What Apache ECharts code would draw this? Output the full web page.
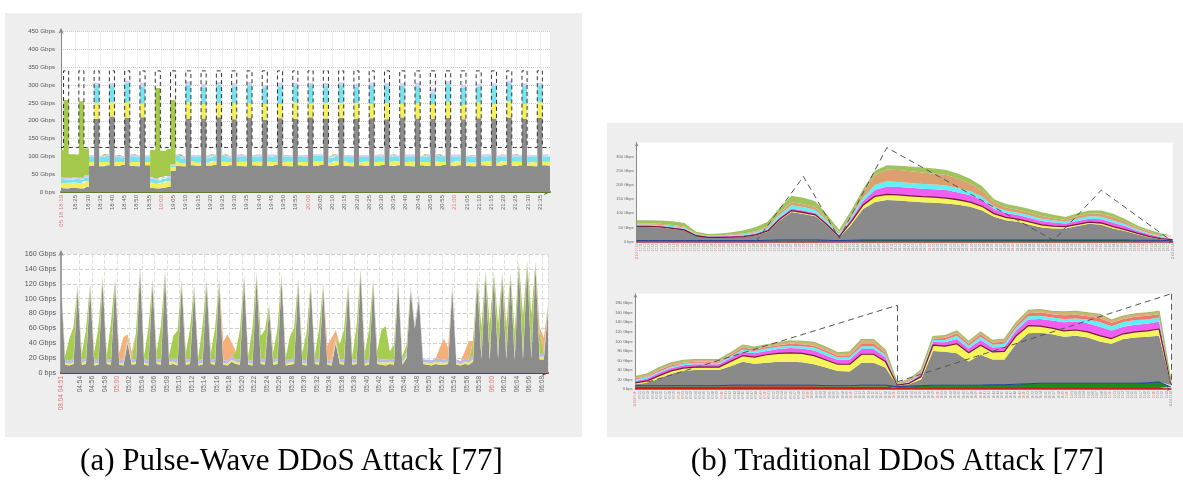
<!DOCTYPE html>
<html><head><meta charset="utf-8">
<script src="https://cdn.jsdelivr.net/npm/echarts@6/dist/echarts.min.js"></script>
<style>
html,body{margin:0;padding:0;background:#fff;}
#wrap{position:relative;width:1183px;height:483px;overflow:hidden;}
.panel{position:absolute;background:#eeeeee;}
#chart{position:absolute;left:0;top:0;width:1183px;height:483px;}
.cap{position:absolute;top:444px;font-family:'Liberation Serif',serif;font-size:31px;line-height:31px;text-align:center;color:#000;white-space:nowrap;}
</style>
</head><body>
<div id="wrap">
  <div class="panel" style="left:5px;top:13px;width:577px;height:424px;"></div>
  <div class="panel" style="left:607px;top:123px;width:576px;height:314px;"></div>
  <div id="chart"></div>
  <div class="cap" style="left:0;width:583px;">(a) Pulse-Wave DDoS Attack [77]</div>
  <div class="cap" style="left:607px;width:581px;">(b) Traditional DDoS Attack [77]</div>
</div>
<script>
// ---------------- (a) top: pulse wave, 18:19 - 21:39 ----------------
const a1TickLabels = ['18:19','18:25','18:30','18:35','18:40','18:45','18:50','18:55',
 '19:00','19:05','19:10','19:15','19:20','19:25','19:30','19:35','19:40','19:45','19:50','19:55',
 '20:00','20:05','20:10','20:15','20:20','20:25','20:30','20:35','20:40','20:45','20:50','20:55',
 '21:00','21:05','21:10','21:15','21:20','21:25','21:30','21:35'];
const a1Date = '05.18';
const a1Gray = [12,10,12,12,10,14,74,205,72,75,
 212,73,76,208,74,72,210,75,12,10,
 12,14,60,74,72,206,75,73,205,74,
 76,210,73,75,204,74,72,208,75,74,
 203,73,76,207,74,72,205,75,73,210,
 74,76,206,73,75,208,74,72,205,75,
 73,207,74,76,204,73,75,209,74,72,
 206,75,73,205,74,76,208,73,75,204,
 74,72,207,75,73,206,74,76,209,73,
 75,205,74,72,208,75,74];
const a1Yellow = [15,15,14,15,15,16,10,44,12,9,
 40,11,8,45,10,12,38,9,15,14,
 15,16,10,11,9,46,12,10,42,8,
 11,40,12,9,45,10,13,41,9,11,
 44,12,8,40,10,13,46,9,11,38,
 12,10,44,9,11,42,13,10,45,8,
 12,40,10,9,46,12,11,39,10,13,
 44,9,11,42,12,8,45,10,12,41,
 9,11,44,10,13,40,9,11,45,12,
 10,42,9,12,44,10,11];
const a1Cyan = [10,10,9,10,10,11,15,50,14,17,
 46,15,13,52,16,14,48,15,10,9,
 10,11,5,16,14,50,13,16,47,15,
 14,52,16,13,48,15,14,51,16,15,
 45,14,17,50,15,13,48,16,14,52,
 15,16,47,14,15,50,13,16,46,15,
 14,51,16,15,48,14,13,50,16,15,
 47,14,16,30,15,14,50,16,13,48,
 15,16,45,14,15,52,16,13,49,15,
 14,50,16,15,47,14,16];
const a1Lav = [5,5,5,4,5,5,5,8,4,6,
 9,5,4,8,6,5,10,4,5,5,
 5,4,3,5,6,8,4,5,9,6,
 5,7,4,5,8,6,5,9,4,5,
 8,6,4,10,5,5,8,4,6,7,
 5,4,9,6,5,8,4,5,8,6,
 5,9,4,5,8,6,4,7,5,5,
 10,4,6,12,5,4,8,6,5,9,
 4,5,8,6,5,7,4,5,9,6,
 5,8,4,5,8,6,5];
const a1Green = [76,218,66,64,215,76,0,0,0,0,
 0,0,0,0,0,0,0,0,76,254,
 74,76,180,0,0,0,0,0,0,0,
 0,0,0,0,0,0,0,0,0,0,
 0,0,0,0,0,0,0,0,0,0,
 0,0,0,0,0,0,0,0,0,0,
 0,0,0,0,0,0,0,0,0,0,
 0,0,0,0,0,0,0,0,0,0,
 0,0,0,0,0,0,0,0,0,0,
 0,0,0,0,0,0,0];
const a1Dash = [125,340,125,125,340,125,125,340,125,125,
 340,125,125,340,125,125,340,125,125,340,
 125,125,340,125,125,340,125,125,340,125,
 125,340,125,125,340,125,125,340,125,125,
 340,125,125,340,125,125,340,125,125,340,
 125,125,340,125,125,340,125,125,340,125,
 125,340,125,125,340,125,125,340,125,125,
 340,125,125,340,125,125,340,125,125,340,
 125,125,340,125,125,340,125,125,340,125,
 125,340,125,125,340,125,125];

// ---------------- (a) bottom: pulse wave, 04:51 - 06:09 ----------------
const a2TickLabels = ['04:51','04:54','04:56','04:58','05:00','05:02','05:04','05:06','05:08','05:10',
 '05:12','05:14','05:16','05:18','05:20','05:22','05:24','05:26','05:28','05:30',
 '05:32','05:34','05:36','05:38','05:40','05:42','05:44','05:46','05:48','05:50',
 '05:52','05:54','05:56','05:58','06:00','06:02','06:04','06:06','06:08','06:09'];
const a2Date = '08.04';
const a2Gray = [119,11,10,12,112,11,12,114,10,11,
 123,12,11,121,11,10,40,11,12,137,
 11,10,119,12,11,132,11,12,10,119,
 11,12,112,10,11,119,12,11,119,11,
 10,15,12,11,126,11,10,128,12,11,
 85,11,12,126,10,11,12,120,11,10,
 117,12,11,114,11,10,40,12,11,114,
 11,12,134,10,11,120,12,11,10,12,
 11,120,11,20,110,60,99,12,11,10,
 12,11,11,12,112,11,10,12,11,15,
 123,18,130,17,130,19,128,18,128,17,
 143,18,143,19,143,18,18,85];
const a2Yellow = [3,3,2,3,3,3,4,3,3,2,
 3,3,3,3,2,3,3,3,3,3,
 3,2,3,3,3,3,4,3,3,3,
 3,3,3,2,3,3,3,3,3,2,
 3,3,3,3,3,3,2,3,3,3,
 3,3,4,3,3,3,3,3,2,3,
 3,3,3,3,2,3,3,3,3,3,
 3,2,3,3,3,3,3,3,4,3,
 3,3,3,3,3,3,3,2,3,3,
 3,3,3,3,3,3,2,3,3,3,
 3,4,3,4,3,4,3,4,3,4,
 3,4,3,4,3,4,4,3];
const a2Lav = [4,4,4,5,4,4,4,4,5,4,
 4,4,4,4,4,5,4,4,4,4,
 5,4,4,4,4,4,4,5,4,4,
 4,4,4,4,5,4,4,4,4,4,
 4,5,4,4,4,4,4,4,5,4,
 4,4,4,4,4,5,4,4,4,4,
 4,4,5,4,4,4,4,4,4,5,
 4,4,4,4,4,4,5,4,4,4,
 4,4,4,5,4,4,4,4,4,4,
 4,5,4,4,4,4,4,4,4,5,
 4,5,4,5,4,5,4,5,4,5,
 4,5,4,5,4,5,5,4];
const a2Green = [0,5,30,42,0,8,38,0,10,45,
 0,5,50,0,0,0,0,0,35,0,
 5,45,0,10,45,0,5,30,40,0,
 10,40,0,5,45,0,8,42,0,0,
 0,0,10,40,0,5,45,0,30,40,
 0,10,40,0,5,30,42,0,10,38,
 0,5,40,0,0,0,0,20,40,0,
 5,45,0,10,40,0,10,40,45,10,
 20,0,5,10,0,0,0,0,0,0,
 0,0,0,0,0,0,0,0,0,20,
 0,35,0,40,0,38,0,35,0,30,
 0,50,0,50,0,25,0,0];
const a2Orange = [0,0,0,0,0,0,0,0,0,0,
 0,0,0,0,10,30,5,10,0,0,
 0,0,0,0,0,0,0,0,0,0,
 0,0,0,0,0,0,0,0,0,25,
 35,18,0,0,0,0,0,0,0,0,
 0,0,0,0,0,0,0,0,0,0,
 0,0,0,0,20,30,10,0,0,0,
 0,0,0,0,0,0,0,0,0,0,
 0,0,0,0,0,0,0,0,0,0,
 0,15,28,15,0,0,0,10,25,0,
 0,0,0,0,0,0,0,5,0,0,
 0,0,0,0,0,10,20,0];

// ---------------- (b) top: traditional attack ----------------
const b1Red    = [2,2,2,2,2,2,2,2,2,2, 2,3,4,4,4,4,3,2,2,2, 2,2,2,2,2,2,2,2,2,2, 2,2,2,2,2,2,2,2,2,2, 2,2,2,2,2,1];
const b1DGreen = [2,2,2,2,2,2,2,2,2,2, 2,2,2,2,2,2,2,2,3,4, 4,4,4,4,4,4,4,4,4,4, 4,4,4,4,4,4,4,4,4,4, 4,4,3,3,3,2];
const b1Gray   = [48,48,46,41,36,16,10,10,11,13, 18,30,69,99,92,84,50,11,55,109, 134,141,139,136,133,131,129,124,117,104, 82,70,64,54,44,41,41,49,57,54, 41,32,21,11,4,2];
const b1Yellow = [2,2,2,2,2,1,1,1,1,1, 2,3,4,5,5,5,4,3,10,14, 20,20,20,20,20,20,19,18,17,15, 11,10,10,10,9,8,6,6,6,6, 6,5,4,3,2,2];
const b1Magenta= [3,3,3,4,4,3,3,4,5,5, 5,5,6,7,7,6,5,5,9,14, 22,28,28,28,28,28,28,26,24,22, 16,15,14,14,14,13,11,12,12,13, 14,12,9,7,5,4];
const b1Cyan   = [4,4,4,4,4,3,2,2,2,3, 4,6,10,12,12,11,8,5,8,12, 18,18,18,17,17,17,16,15,14,12, 9,8,8,8,8,7,6,8,9,9, 8,7,5,4,3,3];
const b1Peach  = [3,3,4,4,4,2,2,2,2,3, 4,6,8,10,10,10,8,5,10,18, 35,42,42,42,40,38,37,33,27,22, 14,12,11,10,10,8,7,9,10,11, 12,9,7,6,5,4];
const b1Green  = [12,12,12,13,12,6,5,6,8,11, 15,15,17,23,23,21,15,9,13,12, 15,15,15,16,18,18,18,18,17,15, 12,12,12,13,13,12,10,10,10,11, 12,9,7,6,6,4];
const b1DashIdx = [10,14,17,21,35,39,45];
const b1DashVal = [0,230,12,332,5,182,0];

// ---------------- (b) bottom: traditional attack ----------------
const b2Red    = [5,5,5,5,5,5,5,5,6,6, 6,6,6,6,6,6,5,5,5,5, 5,5,2,2,2,2,2,2,2,2, 2,2,2,2,2,2,2,2,2,2, 2,2,2,2,2,1];
const b2DGreen = [2,2,2,2,2,2,2,2,2,2, 2,2,2,2,2,2,2,2,2,3, 3,3,3,4,5,6,6,6,6,6, 7,7,8,9,10,10,10,10,10,10, 10,10,10,11,13,3];
const b2Gray   = [3,6,15,25,31,33,33,33,40,49, 45,47,49,49,48,44,38,31,30,47, 47,37,2,4,13,72,70,67,50,64, 53,53,85,106,106,103,98,100,96,88, 83,93,96,97,97,4];
const b2Yellow = [3,4,6,6,6,6,6,6,10,13, 14,17,18,19,19,18,16,14,15,18, 18,13,1,2,6,12,12,20,18,20, 16,17,17,16,14,13,12,12,12,12, 11,11,12,12,14,2];
const b2Magenta= [4,5,6,6,6,6,6,6,7,8, 8,8,9,10,10,11,10,9,10,11, 11,9,1,2,5,7,8,10,9,11, 9,10,11,13,15,16,18,18,18,19, 17,15,15,15,16,2];
const b2Cyan   = [3,3,3,3,3,3,3,3,4,5, 5,5,5,5,5,6,6,5,5,6, 6,5,1,2,3,4,5,7,6,7, 6,6,6,7,7,6,7,6,8,10, 9,10,10,9,8,1];
const b2Salmon = [2,2,3,3,2,2,2,2,3,4, 3,3,3,4,4,4,4,4,4,6, 6,4,1,2,3,3,4,5,4,5, 4,5,5,6,7,7,8,8,7,8, 7,6,7,8,7,1];
const b2Peach  = [4,5,5,5,5,5,5,5,4,5, 5,5,5,6,6,7,7,6,7,8, 8,6,1,2,3,4,5,5,5,5, 5,5,6,6,6,6,7,7,7,8, 6,6,6,6,6,1];
const b2DashA = {idx:[1,22], val:[14,176]};
const b2DashB = {idx:[22,45], val:[15,200]};
const b2DashDrops = [{idx:22, from:176, to:15}, {idx:45, from:200, to:8}];

// ---------------- helpers ----------------
function hm(m){const h=Math.floor(m/60)%24, mm=m%60;return (h<10?'0':'')+h+':'+(mm<10?'0':'')+mm;}
function toMin(s){const p=s.split(':');return (+p[0])*60+(+p[1]);}
function minuteRange(a,b){const r=[];for(let m=toMin(a);m<=toMin(b);m++)r.push(hm(m));return r;}
function indexCats(n){const r=[];for(let i=0;i<n;i++)r.push(String(i));return r;}
function sparse(n,idx,val){const r=[];for(let i=0;i<n;i++)r.push(null);idx.forEach((k,j)=>{r[k]=val[j];});return r;}

const FONT='Liberation Sans';
const a1Cats = minuteRange('18:19','21:39');
const a1Set = new Set(a1TickLabels);
const a1Red = new Set(['18:19','19:00','20:00','21:00']);
const a2Cats = minuteRange('04:51','06:09');
const a2Set = new Set(a2TickLabels);
const a2Red = new Set(['04:51','05:00','06:00','06:09']);
const b1Cats = minuteRange('17:10','19:18');
const b2Cats = minuteRange('09:20','11:24');

function area(name,data,color,stack,xi,yi,extra){
  return Object.assign({name:name,type:'line',data:data,stack:stack,xAxisIndex:xi,yAxisIndex:yi,
    symbol:'none',silent:true,lineStyle:{width:0,color:color},areaStyle:{color:color,opacity:1},
    itemStyle:{color:color}},extra||{});
}
function gbps(v){return v===0?'0 bps':v+' Gbps';}

const chart = echarts.init(document.getElementById('chart'),null,{renderer:'canvas'});
const option = {
  animation:false,
  backgroundColor:'transparent',
  grid:[
    {left:61,top:31.7,width:489,height:160.3,show:true,backgroundColor:'#ffffff',borderWidth:0},
    {left:61,top:254,width:487,height:119,show:true,backgroundColor:'#ffffff',borderWidth:0},
    {left:636.7,top:142.5,width:536,height:99.2,show:true,backgroundColor:'#ffffff',borderWidth:0},
    {left:635.5,top:293.8,width:535.5,height:95.2,show:true,backgroundColor:'#ffffff',borderWidth:0}
  ],
  xAxis:[
    // 0: a1 data
    {type:'category',gridIndex:0,position:'top',show:false,boundaryGap:false,data:indexCats(a1Gray.length)},
    // 1: a1 labels
    {type:'category',gridIndex:0,position:'bottom',boundaryGap:false,data:a1Cats,
      axisLine:{lineStyle:{color:'#5f7d2c',width:2},symbol:['none','arrow'],symbolSize:[5,6]},
      axisTick:{show:false},
      axisLabel:{interval:(i,v)=>a1Set.has(v),rotate:90,fontSize:6,fontFamily:FONT,margin:3,
        color:(v)=>a1Red.has(v)?'#d98080':'#666',
        formatter:(v,i)=>i===0?a1Date+' '+v:v},
      splitLine:{show:true,interval:(i,v)=>a1Set.has(v),lineStyle:{color:'#e4e4e4',type:'dotted',width:1}}},
    // 2: a2 data
    {type:'category',gridIndex:1,position:'top',show:false,boundaryGap:false,data:indexCats(a2Gray.length)},
    // 3: a2 labels
    {type:'category',gridIndex:1,position:'bottom',boundaryGap:false,data:a2Cats,
      axisLine:{lineStyle:{color:'#7a3b1e',width:2},symbol:['none','arrow'],symbolSize:[5,6]},
      axisTick:{show:false},
      axisLabel:{interval:(i,v)=>a2Set.has(v),rotate:90,fontSize:6.5,fontFamily:FONT,margin:3,
        color:(v)=>a2Red.has(v)?'#d97070':'#666',
        formatter:(v,i)=>(i===0||i===a2Cats.length-1)?a2Date+' '+v:v},
      splitLine:{show:true,interval:(i,v)=>a2Set.has(v),lineStyle:{color:'#e0e0e0',type:'dashed',width:1}}},
    // 4: b1 data
    {type:'category',gridIndex:2,position:'top',show:false,boundaryGap:false,data:indexCats(b1Gray.length)},
    // 5: b1 labels
    {type:'category',gridIndex:2,position:'bottom',boundaryGap:false,data:b1Cats,
      axisLine:{lineStyle:{color:'#b03030',width:1.5},symbol:['none','arrow'],symbolSize:[3,4]},
      axisTick:{show:false},
      axisLabel:{interval:0,rotate:90,fontSize:3,fontFamily:FONT,margin:2,
        color:(v)=>(toMin(v)%10===0)?'#e07070':'#888',
        formatter:(v,i)=>(i===0||i===b1Cats.length-1)?'11.03 '+v:v},
      splitLine:{show:false}},
    // 6: b2 data
    {type:'category',gridIndex:3,position:'top',show:false,boundaryGap:false,data:indexCats(b2Gray.length)},
    // 7: b2 labels
    {type:'category',gridIndex:3,position:'bottom',boundaryGap:false,data:b2Cats,
      axisLine:{lineStyle:{color:'#b03030',width:1.5},symbol:['none','arrow'],symbolSize:[3,4]},
      axisTick:{show:false},
      axisLabel:{interval:0,rotate:90,fontSize:3,fontFamily:FONT,margin:2,
        color:(v)=>(toMin(v)%10===0)?'#e07070':'#888',
        formatter:(v,i)=>(i===0||i===b2Cats.length-1)?'11.04 '+v:v},
      splitLine:{show:false}}
  ],
  yAxis:[
    {type:'value',gridIndex:0,min:0,max:450,interval:50,
      axisLine:{show:true,lineStyle:{color:'#888',width:1},symbol:['none','arrow'],symbolSize:[4,6],symbolOffset:[0,4]},
      axisTick:{show:false},
      axisLabel:{fontSize:6.2,fontFamily:FONT,color:'#555',margin:6,formatter:gbps},
      splitLine:{lineStyle:{color:'#cfcfcf',type:'dotted'}}},
    {type:'value',gridIndex:1,min:0,max:160,interval:20,
      axisLine:{show:true,lineStyle:{color:'#888',width:1.5},symbol:['none','arrow'],symbolSize:[4,6],symbolOffset:[0,4]},
      axisTick:{show:false},
      axisLabel:{fontSize:7.2,fontFamily:FONT,color:'#555',margin:5,formatter:gbps},
      splitLine:{lineStyle:{color:'#d0d0d0',type:'dashed'}}},
    {type:'value',gridIndex:2,min:0,max:350,interval:50,
      axisLine:{show:true,lineStyle:{color:'#888',width:1},symbol:['none','arrow'],symbolSize:[3,4]},
      axisTick:{show:false},
      axisLabel:{fontSize:4,fontFamily:FONT,color:'#666',margin:3,formatter:(v)=>v>=350?'':gbps(v)},
      splitLine:{show:false}},
    {type:'value',gridIndex:3,min:0,max:200,interval:20,
      axisLine:{show:true,lineStyle:{color:'#888',width:1},symbol:['none','arrow'],symbolSize:[3,4]},
      axisTick:{show:false},
      axisLabel:{fontSize:4,fontFamily:FONT,color:'#666',margin:3,formatter:(v)=>v>=200?'':gbps(v)},
      splitLine:{show:false}}
  ],
  series:[
    // (a) top
    area('a1 gray',a1Gray,'#8c8c8c','a1',0,0,{step:'middle'}),
    area('a1 yellow',a1Yellow,'#f2ee5c','a1',0,0,{step:'middle'}),
    area('a1 cyan',a1Cyan,'#78e3ee','a1',0,0,{step:'middle'}),
    area('a1 lavender',a1Lav,'#d0d0f4','a1',0,0,{step:'middle'}),
    area('a1 green',a1Green,'#a3c84a','a1',0,0,{step:'middle'}),
    {name:'a1 threshold',type:'line',data:a1Dash,xAxisIndex:0,yAxisIndex:0,step:'middle',symbol:'none',silent:true,
      lineStyle:{color:'#333',width:1,type:[4,3]}},
    // (a) bottom
    area('a2 gray',a2Gray,'#8c8c8c','a2',2,1),
    area('a2 yellow',a2Yellow,'#eeea60','a2',2,1),
    area('a2 lavender',a2Lav,'#b8b8f0','a2',2,1),
    area('a2 green',a2Green,'#a6cc50','a2',2,1),
    area('a2 orange',a2Orange,'#f4b078','a2',2,1),
    // (b) top
    area('b1 red',b1Red,'#c81e1e','b1',4,2),
    area('b1 dgreen',b1DGreen,'#1e7a1e','b1',4,2,{lineStyle:{width:1,color:'#1f3fa0'}}),
    area('b1 gray',b1Gray,'#8a8a8a','b1',4,2),
    area('b1 yellow',b1Yellow,'#f5f55a','b1',4,2,{lineStyle:{width:1.3,color:'#7a1a3a'}}),
    area('b1 magenta',b1Magenta,'#f060f0','b1',4,2),
    area('b1 cyan',b1Cyan,'#60f0f5','b1',4,2),
    area('b1 peach',b1Peach,'#dca070','b1',4,2),
    area('b1 green',b1Green,'#a0c35e','b1',4,2),
    {name:'b1 threshold',type:'line',data:sparse(b1Gray.length,b1DashIdx,b1DashVal),connectNulls:true,
      xAxisIndex:4,yAxisIndex:2,symbol:'none',silent:true,lineStyle:{color:'#555',width:1,type:[6,4]}},
    // (b) bottom
    area('b2 red',b2Red,'#c81e1e','b2',6,3),
    area('b2 dgreen',b2DGreen,'#1e8a1e','b2',6,3,{lineStyle:{width:1,color:'#1f3fa0'}}),
    area('b2 gray',b2Gray,'#8a8a8a','b2',6,3),
    area('b2 yellow',b2Yellow,'#f5f55a','b2',6,3,{lineStyle:{width:1.2,color:'#7a1a3a'}}),
    area('b2 magenta',b2Magenta,'#f060f0','b2',6,3),
    area('b2 cyan',b2Cyan,'#60f0f5','b2',6,3),
    area('b2 salmon',b2Salmon,'#f07a6a','b2',6,3),
    area('b2 peach',b2Peach,'#d8b080','b2',6,3,{lineStyle:{width:1.2,color:'#9cc060'}}),
    {name:'b2 threshold A',type:'line',data:sparse(b2Gray.length,b2DashA.idx,b2DashA.val),connectNulls:true,
      xAxisIndex:6,yAxisIndex:3,symbol:'none',silent:true,lineStyle:{color:'#555',width:1,type:[6,4]},
      markLine:{silent:true,symbol:['none','none'],label:{show:false},lineStyle:{color:'#555',width:1,type:[6,4]},
        data:b2DashDrops.map(d=>[{coord:[String(d.idx),d.from]},{coord:[String(d.idx),d.to]}])}},
    {name:'b2 threshold B',type:'line',data:sparse(b2Gray.length,b2DashB.idx,b2DashB.val),connectNulls:true,
      xAxisIndex:6,yAxisIndex:3,symbol:'none',silent:true,lineStyle:{color:'#555',width:1,type:[6,4]}}
  ]
};
chart.setOption(option);
</script>
</body></html>
